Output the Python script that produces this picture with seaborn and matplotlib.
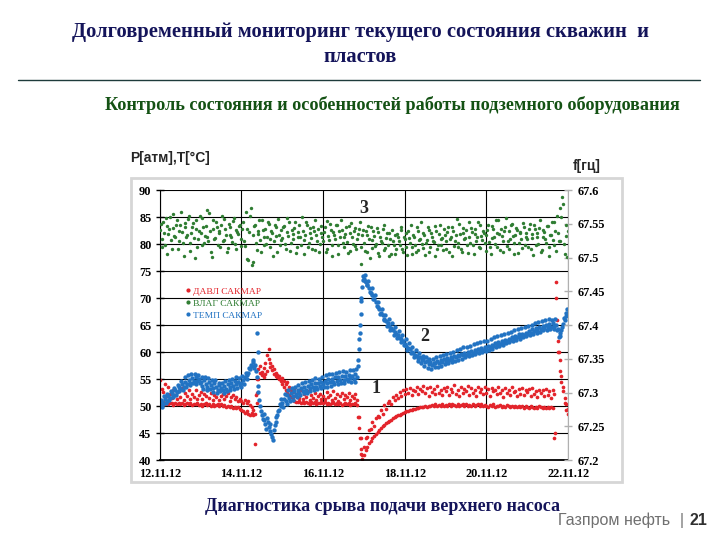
import pandas as pd
import matplotlib.pyplot as plt
import matplotlib.dates as mdates
import seaborn as sns
from matplotlib.lines import Line2D

# hourly samples 12.11.12 00:00 .. 22.11.12 00:00
t_hour = pd.date_range('2012-11-12 00:00', periods=241, freq='h')
t_half = pd.date_range('2012-11-12 00:30', periods=240, freq='h')

# ТЕМП САКМАР (blue), left axis
temp = [
    50.0, 50.8, 50.4, 51.3, 51.0, 51.9, 51.5, 52.4, 52.0, 52.9, 52.6, 53.5, 53.1, 54.0, 53.6, 54.4, 54.0, 54.9, 54.3, 55.2, 54.6, 55.4, 54.7, 55.0,
    54.4, 53.8, 54.9, 54.1, 53.6, 54.5, 53.9, 53.3, 54.2, 53.5, 53.0, 53.9, 53.4, 52.9, 53.8, 53.2, 54.0, 53.6, 54.3, 53.8, 54.6, 54.0, 54.5, 53.9,
    54.2, 54.9, 55.3, 55.0, 56.1, 56.8, 57.5, 58.2, 57.6, 55.4, 52.6, 50.1, 48.3, 47.5, 46.6, 47.8, 46.1, 45.4, 44.2, 45.6, 47.0, 48.3, 49.2, 50.0,
    50.6, 51.4, 50.9, 52.0, 51.5, 52.4, 51.8, 52.7, 52.2, 53.0, 52.5, 53.3, 52.8, 53.6, 53.0, 53.8, 53.3, 54.0, 53.5, 54.2, 53.6, 54.3, 53.8, 54.5,
    54.0, 54.7, 54.2, 55.0, 54.4, 55.1, 54.5, 55.3, 54.7, 55.4, 54.8, 55.6, 54.9, 55.5, 55.0, 55.8, 55.2, 55.6, 55.0, 56.0, 55.4, 60.5, 67.0, 72.0,
    73.6, 73.0, 72.4, 71.8, 71.0, 70.5, 69.8, 69.2, 68.4, 67.9, 67.2, 66.8, 66.1, 65.7, 65.3, 64.8, 64.5, 64.0, 63.8, 63.3, 63.1, 62.6, 62.4, 62.0,
    61.5, 61.2, 60.8, 60.6, 60.1, 59.9, 59.5, 59.3, 58.9, 59.0, 58.5, 58.7, 58.2, 58.4, 57.8, 58.1, 57.6, 58.0, 57.9, 58.3, 58.0, 58.5, 58.2, 58.7,
    58.4, 58.9, 58.6, 59.1, 58.8, 59.3, 59.0, 59.5, 59.2, 59.7, 59.4, 59.8, 59.5, 60.0, 59.7, 60.2, 59.9, 60.4, 60.1, 60.5, 60.2, 60.7, 60.4, 60.9,
    60.6, 61.1, 60.9, 61.4, 61.1, 61.6, 61.3, 61.8, 61.5, 62.0, 61.8, 62.3, 62.0, 62.5, 62.2, 62.8, 62.5, 63.0, 62.7, 63.3, 62.9, 63.4, 63.1, 63.6,
    63.4, 63.9, 63.6, 64.2, 63.9, 64.5, 64.1, 64.7, 64.3, 64.9, 64.5, 65.1, 64.6, 65.2, 64.7, 65.3, 64.8, 65.0, 64.3, 63.0, 64.0, 65.2, 66.0, 66.6,
    67.2,
]
temp_b = [
    51.2, 49.8, 51.9, 50.6, 52.3, 51.1, 52.8, 51.6, 53.4, 52.1, 53.9, 52.7, 54.6, 53.0, 55.3, 53.5, 55.8, 53.9, 56.0, 54.2, 55.9, 54.1, 55.7, 54.3,
    55.3, 53.2, 55.4, 53.0, 55.2, 53.1, 54.8, 52.6, 54.9, 52.5, 54.3, 52.8, 54.2, 52.4, 54.6, 52.7, 54.9, 52.9, 55.1, 53.2, 55.3, 53.4, 55.2, 53.6,
    55.5, 54.0, 56.2, 55.8, 57.0, 57.6, 58.5, 57.1, 56.5, 53.8, 51.2, 49.0, 47.6, 48.6, 45.8, 47.0, 46.7, 44.8, 43.8, 46.5, 48.0, 49.0, 50.4, 51.3,
    49.9, 52.3, 50.4, 53.0, 51.0, 53.4, 51.2, 53.6, 51.7, 53.9, 52.0, 54.2, 52.4, 54.5, 52.5, 54.7, 52.8, 54.9, 53.0, 55.2, 53.1, 55.1, 53.4, 55.4,
    53.5, 55.7, 53.6, 55.9, 53.8, 56.0, 54.0, 56.2, 54.1, 56.3, 54.2, 56.5, 54.3, 56.4, 54.6, 56.7, 54.5, 56.6, 54.4, 56.8, 57.5, 63.5, 69.5, 73.4,
    74.2, 72.5, 73.1, 71.2, 71.9, 69.8, 70.6, 68.5, 69.3, 67.1, 68.0, 65.9, 66.9, 64.9, 66.2, 64.0, 65.4, 63.2, 64.6, 62.6, 63.9, 61.9, 63.2, 61.3,
    62.4, 60.4, 61.6, 59.8, 60.9, 59.1, 60.3, 58.4, 59.8, 57.9, 59.3, 57.4, 59.0, 57.1, 58.7, 56.9, 58.8, 57.2, 59.0, 57.3, 59.2, 57.5, 59.4, 57.8,
    59.6, 57.9, 59.9, 58.2, 60.1, 58.4, 60.4, 58.6, 60.6, 58.8, 60.9, 59.0, 61.0, 59.2, 61.2, 59.4, 61.5, 59.6, 61.6, 59.8, 61.8, 60.0, 62.0, 60.2,
    62.1, 60.4, 62.4, 60.6, 62.7, 60.9, 62.9, 61.1, 63.1, 61.3, 63.3, 61.6, 63.6, 61.8, 63.8, 62.0, 64.0, 62.3, 64.3, 62.5, 64.4, 62.7, 64.6, 62.9,
    64.8, 63.1, 65.0, 63.3, 65.3, 63.6, 65.5, 63.8, 65.8, 64.0, 66.0, 64.1, 66.1, 64.2, 66.0, 64.3, 66.2, 64.0, 62.8, 63.6, 64.7, 66.4, 67.2, 67.9,
]
temp_evt_time = ['2012-11-14 09:00', '2012-11-14 09:30', '2012-11-16 20:40', '2012-11-16 21:20',
                 '2012-11-16 21:40', '2012-11-16 22:20', '2012-11-16 23:20', '2012-11-17 00:30']
temp_evt = [63.5, 60.0, 58.5, 62.5, 65.0, 70.0, 74.0, 73.2]

# ДАВЛ САКМАР (red), dense lower band and scattered upper band
davl_low = [
    50.8, 50.5, 50.7, 50.4, 50.6, 50.3, 50.5, 50.6, 50.2, 50.5, 50.4, 50.6, 50.3, 50.5, 50.2, 50.4, 50.6, 50.3, 50.5, 50.2, 50.4, 50.3, 50.5, 50.2,
    50.4, 50.1, 50.3, 50.5, 50.2, 50.4, 50.1, 50.3, 50.0, 50.2, 50.4, 50.1, 50.3, 50.0, 50.2, 49.9, 50.1, 49.8, 50.0, 49.7, 49.9, 49.6, 49.8, 49.5,
    49.3, 49.0, 48.8, 49.1, 48.6, 48.4, 48.7, 48.3, 43.0, 52.5, 56.8, 56.2, 55.7, 55.4, 55.9, 56.5, 60.5, 58.0, 56.6, 56.0, 55.6, 55.3, 55.0, 54.6,
    54.0, 53.5, 53.0, 52.5, 52.0, 51.6, 51.3, 51.0, 50.8, 50.7, 50.9, 50.6, 50.8, 50.5, 50.7, 50.6, 50.4, 50.7, 50.5, 50.8, 50.4, 50.6, 50.5, 50.7,
    50.5, 50.7, 50.4, 50.6, 50.3, 50.5, 50.7, 50.4, 50.6, 50.3, 50.5, 50.2, 50.4, 50.6, 50.3, 50.5, 50.2, 50.4, 50.3, 50.5, 50.2, 46.0, 41.2, 40.2,
    41.0, 41.8, 42.4, 43.1, 43.5, 44.1, 44.4, 44.9, 45.2, 45.6, 45.9, 46.3, 46.5, 46.8, 47.0, 47.3, 47.5, 47.7, 47.9, 48.1, 48.3, 48.4, 48.6, 48.7,
    48.9, 49.0, 49.1, 49.3, 49.3, 49.5, 49.5, 49.6, 49.7, 49.8, 49.8, 49.9, 50.0, 49.9, 50.1, 50.0, 50.2, 50.1, 50.3, 50.1, 50.2, 50.0, 50.3, 50.1,
    50.2, 50.0, 50.3, 50.1, 50.4, 50.2, 50.0, 50.3, 50.1, 50.2, 50.4, 50.1, 50.3, 50.0, 50.2, 50.1, 50.3, 50.0, 50.2, 50.4, 50.1, 50.3, 50.0, 50.2,
    50.1, 49.9, 50.2, 50.0, 50.3, 49.9, 50.1, 50.0, 50.2, 49.8, 50.1, 49.9, 50.2, 50.0, 49.8, 50.1, 49.9, 50.0, 49.8, 50.1, 49.9, 50.0, 49.7, 50.0,
    49.9, 49.7, 50.0, 49.8, 49.6, 49.9, 49.7, 50.0, 49.8, 49.6, 49.9, 49.7, 49.8, 49.6, 49.9, 49.7, 44.0, 73.0, 62.0, 58.5, 55.5, 53.5, 50.5, 49.2,
    48.6,
]
davl_high = [
    54.8, 53.2, 52.6, 54.0, 51.9, 53.5, 52.2, 51.5, 53.0, 52.0, 51.4, 52.8, 51.7, 53.3, 51.2, 52.5, 51.8, 53.0, 51.3, 52.2, 51.6, 52.9, 51.4, 52.1,
    52.6, 51.3, 52.2, 51.8, 53.0, 51.5, 52.4, 51.2, 52.0, 51.6, 52.7, 51.1, 51.9, 52.3, 51.4, 51.8, 52.5, 51.0, 51.7, 52.1, 51.3, 51.6, 50.9, 51.4,
    51.0, 50.6, 51.2, 50.5, 50.9, 50.2, 49.8, 49.2, 48.5, 50.5, 55.0, 57.5, 56.4, 57.0, 58.0, 59.5, 58.8, 57.2, 57.4, 56.8, 56.2, 55.8, 55.5, 55.0,
    55.2, 54.6, 54.0, 54.4, 53.5, 53.0, 52.6, 53.2, 51.8, 52.5, 51.5, 52.9, 51.3, 52.2, 51.6, 52.7, 51.2, 52.0, 51.5, 52.4, 51.1, 51.8, 52.3, 51.4,
    51.9, 51.3, 52.6, 51.6, 52.1, 51.2, 52.8, 51.5, 52.3, 51.0, 51.8, 52.4, 51.4, 52.0, 51.7, 52.5, 51.2, 51.9, 51.5, 52.2, 51.1, 48.0, 44.0, 41.0,
    42.5, 44.0, 44.2, 45.5, 45.8, 47.0, 46.3, 47.8, 48.2, 48.0, 49.3, 48.6, 50.2, 49.5, 50.6, 51.0, 50.4, 51.6, 51.2, 52.0, 51.5, 52.6, 51.8, 52.9,
    52.2, 53.1, 52.5, 53.4, 52.0, 53.0, 52.7, 53.6, 52.3, 53.2, 52.8, 53.7, 52.4, 53.3, 51.9, 53.5, 52.6, 53.1, 52.2, 53.8, 52.5, 53.0, 52.1, 53.4,
    52.7, 53.5, 52.0, 53.2, 52.6, 53.9, 52.3, 53.0, 51.8, 53.6, 52.4, 53.1, 52.8, 53.7, 52.1, 53.3, 52.5, 53.0, 51.9, 53.5, 52.6, 53.2, 52.2, 53.6,
    52.4, 53.1, 51.8, 53.4, 52.7, 53.0, 52.2, 53.6, 52.5, 52.9, 51.7, 53.3, 52.4, 53.0, 52.0, 53.5, 52.6, 52.8, 51.9, 53.2, 52.3, 53.4, 52.0, 52.9,
    52.6, 53.1, 51.8, 53.3, 52.2, 52.8, 51.6, 53.0, 52.4, 52.9, 51.9, 53.2, 52.1, 52.7, 51.5, 52.9, 52.3, 70.0, 60.0, 56.5, 54.5, 52.8, 51.5, 50.3,
    49.5,
]
davl_evt_time = ['2012-11-14 08:40', '2012-11-14 09:20', '2012-11-16 20:30', '2012-11-16 21:30',
                 '2012-11-16 22:30', '2012-11-21 16:30', '2012-11-21 17:30', '2012-11-21 18:30']
davl_evt = [52.0, 55.0, 48.0, 44.0, 42.0, 45.0, 66.0, 60.0]

# ВЛАГ САКМАР (green), right axis, Hz
vlag_a = [
    67.541, 67.528, 67.553, 67.519, 67.547, 67.535, 67.560, 67.512, 67.544, 67.530, 67.556, 67.524, 67.549, 67.538, 67.503, 67.551, 67.533, 67.562, 67.521, 67.545, 67.529, 67.555, 67.516, 67.540,
    67.536, 67.558, 67.522, 67.547, 67.531, 67.566, 67.509, 67.543, 67.527, 67.552, 67.518, 67.539, 67.548, 67.525, 67.557, 67.533, 67.514, 67.546, 67.530, 67.554, 67.520, 67.541, 67.535, 67.549,
    67.528, 67.552, 67.517, 67.543, 67.496, 67.561, 67.489, 67.534, 67.548, 67.511, 67.539, 67.526, 67.555, 67.519, 67.542, 67.531, 67.550, 67.515, 67.537, 67.524, 67.546, 67.508, 67.533, 67.541,
    67.529, 67.547, 67.513, 67.538, 67.552, 67.522, 67.535, 67.544, 67.507, 67.531, 67.549, 67.518, 67.540, 67.526, 67.553, 67.515, 67.537, 67.529, 67.546, 67.511, 67.533, 67.542, 67.520, 67.536,
    67.524, 67.545, 67.512, 67.532, 67.550, 67.519, 67.538, 67.527, 67.548, 67.506, 67.530, 67.541, 67.516, 67.535, 67.523, 67.547, 67.510, 67.531, 67.539, 67.517, 67.528, 67.543, 67.490, 67.533,
    67.521, 67.540, 67.508, 67.527, 67.545, 67.514, 67.532, 67.520, 67.538, 67.503, 67.525, 67.542, 67.511, 67.529, 67.518, 67.536, 67.506, 67.524, 67.533, 67.513, 67.530, 67.519, 67.541, 67.509,
    67.527, 67.515, 67.539, 67.522, 67.506, 67.534, 67.518, 67.545, 67.511, 67.528, 67.520, 67.537, 67.504, 67.526, 67.541, 67.516, 67.531, 67.523, 67.547, 67.512, 67.535, 67.519, 67.529, 67.543,
    67.524, 67.538, 67.509, 67.531, 67.546, 67.517, 67.533, 67.522, 67.550, 67.513, 67.536, 67.527, 67.541, 67.507, 67.530, 67.544, 67.519, 67.535, 67.525, 67.552, 67.514, 67.532, 67.540, 67.521,
    67.534, 67.548, 67.515, 67.529, 67.543, 67.520, 67.537, 67.555, 67.511, 67.532, 67.524, 67.546, 67.517, 67.539, 67.528, 67.550, 67.506, 67.533, 67.541, 67.522, 67.536, 67.514, 67.545, 67.530,
    67.527, 67.542, 67.512, 67.535, 67.549, 67.519, 67.531, 67.544, 67.508, 67.530, 67.538, 67.521, 67.547, 67.515, 67.533, 67.526, 67.553, 67.510, 67.536, 67.524, 67.560, 67.580, 67.505, 67.532,
    67.540,
]
vlag_b = [
    67.550, 67.516, 67.537, 67.559, 67.506, 67.542, 67.526, 67.564, 67.532, 67.548, 67.513, 67.539, 67.567, 67.521, 67.545, 67.530, 67.557, 67.510, 67.536, 67.551, 67.499, 67.543, 67.527, 67.561,
    67.519, 67.545, 67.532, 67.570, 67.524, 67.540, 67.501, 67.555, 67.529, 67.546, 67.537, 67.515, 67.561, 67.526, 67.542, 67.508, 67.550, 67.534, 67.523, 67.559, 67.512, 67.538, 67.547, 67.517,
    67.543, 67.525, 67.568, 67.498, 67.538, 67.574, 67.493, 67.547, 67.522, 67.535, 67.556, 67.509, 67.541, 67.530, 67.520, 67.552, 67.527, 67.539, 67.503, 67.548, 67.532, 67.557, 67.518, 67.526,
    67.545, 67.520, 67.558, 67.532, 67.510, 67.541, 67.527, 67.553, 67.516, 67.538, 67.530, 67.560, 67.505, 67.534, 67.548, 67.521, 67.544, 67.512, 67.539, 67.555, 67.525, 67.508, 67.547, 67.530,
    67.538, 67.509, 67.554, 67.526, 67.541, 67.502, 67.534, 67.549, 67.518, 67.540, 67.556, 67.522, 67.530, 67.545, 67.507, 67.537, 67.551, 67.520, 67.544, 67.512, 67.535, 67.552, 67.515, 67.541,
    67.510, 67.533, 67.547, 67.500, 67.526, 67.539, 67.517, 67.544, 67.507, 67.530, 67.522, 67.548, 67.514, 67.536, 67.503, 67.528, 67.541, 67.519, 67.506, 67.535, 67.524, 67.546, 67.512, 67.531,
    67.537, 67.504, 67.529, 67.548, 67.516, 67.531, 67.509, 67.540, 67.526, 67.552, 67.514, 67.533, 67.521, 67.545, 67.508, 67.537, 67.525, 67.502, 67.539, 67.518, 67.549, 67.528, 67.511, 67.534,
    67.512, 67.546, 67.527, 67.503, 67.540, 67.524, 67.557, 67.516, 67.535, 67.509, 67.544, 67.529, 67.518, 67.553, 67.522, 67.538, 67.506, 67.542, 67.530, 67.515, 67.548, 67.526, 67.537, 67.510,
    67.541, 67.523, 67.505, 67.547, 67.530, 67.556, 67.516, 67.535, 67.543, 67.509, 67.539, 67.558, 67.525, 67.513, 67.549, 67.532, 67.521, 67.544, 67.507, 67.538, 67.527, 67.551, 67.519, 67.536,
    67.516, 67.550, 67.529, 67.504, 67.543, 67.537, 67.520, 67.556, 67.511, 67.541, 67.527, 67.547, 67.503, 67.534, 67.552, 67.518, 67.539, 67.562, 67.525, 67.573, 67.590, 67.520, 67.548, 67.501,
]

left_ticks = [40, 45, 50, 55, 60, 65, 70, 75, 80, 85, 90]
right_ticks = [67.2, 67.25, 67.3, 67.35, 67.4, 67.45, 67.5, 67.55, 67.6]
right_labels = ['67.2', '67.25', '67.3', '67.35', '67.4', '67.45', '67.5', '67.55', '67.6']
date_ticks = pd.date_range('2012-11-12', '2012-11-22', freq='2D')

RED = '#e3242b'
GREEN = '#2f7d32'
BLUE = '#2273c3'
SERIF = 'Liberation Serif'

sns.set_style('white')
plt.rcParams['font.family'] = ['Liberation Serif', 'DejaVu Sans']

fig = plt.figure(figsize=(7.2, 5.4), dpi=100)

# header
fig.text(0.50, 0.940, 'Долговременный мониторинг текущего состояния скважин  и',
         ha='center', va='center', fontsize=14.8, fontweight='bold', color='#14145a', family=SERIF)
fig.text(0.50, 0.895, 'пластов', ha='center', va='center', fontsize=14.8, fontweight='bold',
         color='#14145a', family=SERIF)
fig.add_artist(Line2D([0.025, 0.972], [0.851, 0.851], color='#1e3b3b', lw=1.0))
fig.text(0.545, 0.806, 'Контроль состояния и особенностей работы подземного оборудования',
         ha='center', va='center', fontsize=13.1, fontweight='bold', color='#145214', family=SERIF)

# light frame around the chart
fig.add_artist(plt.Rectangle((0.182, 0.107), 0.682, 0.563, transform=fig.transFigure,
                             fill=False, edgecolor='#d6d6d6', lw=2))

ax = fig.add_axes([0.222, 0.148, 0.567, 0.500])
ax2 = ax.twinx()

sns.scatterplot(x=t_hour, y=davl_low, ax=ax, color=RED, s=7, linewidth=0)
sns.scatterplot(x=t_hour, y=davl_high, ax=ax, color=RED, s=7, linewidth=0)
sns.scatterplot(x=pd.to_datetime(davl_evt_time), y=davl_evt, ax=ax, color=RED, s=7, linewidth=0)
sns.scatterplot(x=t_hour, y=temp, ax=ax, color=BLUE, s=10, linewidth=0)
sns.scatterplot(x=t_half, y=temp_b, ax=ax, color=BLUE, s=10, linewidth=0)
sns.scatterplot(x=pd.to_datetime(temp_evt_time), y=temp_evt, ax=ax, color=BLUE, s=10, linewidth=0)
sns.scatterplot(x=t_hour, y=vlag_a, ax=ax2, color=GREEN, s=6, linewidth=0)
sns.scatterplot(x=t_half, y=vlag_b, ax=ax2, color=GREEN, s=6, linewidth=0)

ax.set_xlim(pd.Timestamp('2012-11-12'), pd.Timestamp('2012-11-22'))
ax.set_ylim(40, 90)
ax2.set_ylim(67.2, 67.6)
ax.set_yticks(left_ticks)
ax2.set_yticks(right_ticks)
ax2.set_yticklabels(right_labels)
ax.set_xticks(date_ticks)
ax.xaxis.set_major_formatter(mdates.DateFormatter('%d.%m.%y'))

ax.grid(True, color='black', lw=0.8)
ax.set_axisbelow(True)
for a in (ax, ax2):
    for side in ('top', 'right', 'left', 'bottom'):
        a.spines[side].set_visible(False)
ax.spines['left'].set_visible(True)
ax.spines['left'].set_color('black')
ax.spines['bottom'].set_visible(True)
ax.spines['bottom'].set_color('black')
ax.spines['bottom'].set_linewidth(1.3)
ax2.spines['right'].set_visible(True)
ax2.spines['right'].set_color('#b0b0b0')

ax.tick_params(axis='both', direction='inout', length=6, width=1, colors='black', labelsize=8.8, pad=3)
ax2.tick_params(axis='y', direction='inout', length=6, width=1, colors='#b0b0b0', labelcolor='black',
                labelsize=8.8, pad=4)
for lbl in ax.get_xticklabels() + ax.get_yticklabels() + ax2.get_yticklabels():
    lbl.set_fontweight('bold')
    lbl.set_family(SERIF)
ax.set_xlabel('')
ax.set_ylabel('')
ax2.set_ylabel('')

# annotations
ax.text(pd.Timestamp('2012-11-17 00:00'), 86.5, '3', fontsize=13, fontweight='bold', ha='center', va='center')
ax.text(pd.Timestamp('2012-11-18 12:00'), 62.8, '2', fontsize=13, fontweight='bold', ha='center', va='center')
ax.text(pd.Timestamp('2012-11-17 07:00'), 53.2, '1', fontsize=13, fontweight='bold', ha='center', va='center')

handles = [Line2D([], [], ls='none', marker='o', ms=2, color=c) for c in (RED, GREEN, BLUE)]
leg = ax2.legend(handles, ['ДАВЛ САКМАР', 'ВЛАГ САКМАР', 'ТЕМП САКМАР'], loc='upper left',
                 bbox_to_anchor=(0.04, 0.672), frameon=False, fontsize=6.8, handlelength=0.6,
                 handletextpad=0.3, labelspacing=0.35, labelcolor=[RED, GREEN, BLUE])

fig.text(0.181, 0.708, 'P[атм],T[°С]', fontsize=10, fontweight='bold', family='Liberation Sans', va='center')
fig.text(0.795, 0.692, 'f[гц]', fontsize=10, fontweight='bold', family='Liberation Sans', va='center')

# footer
fig.text(0.285, 0.062, 'Диагностика срыва подачи верхнего насоса', fontsize=13, fontweight='bold',
         color='#14145a', family=SERIF, va='center')
fig.text(0.775, 0.037, 'Газпром нефть', fontsize=11.5, color='#707070', family='Liberation Sans', va='center')
fig.text(0.945, 0.037, '| ', fontsize=11.5, color='#707070', family='Liberation Sans', va='center')
fig.text(0.958, 0.037, '21', fontsize=11.5, fontweight='bold', color='#303030', family='Liberation Sans', va='center')

plt.savefig('out.png', dpi=100)
